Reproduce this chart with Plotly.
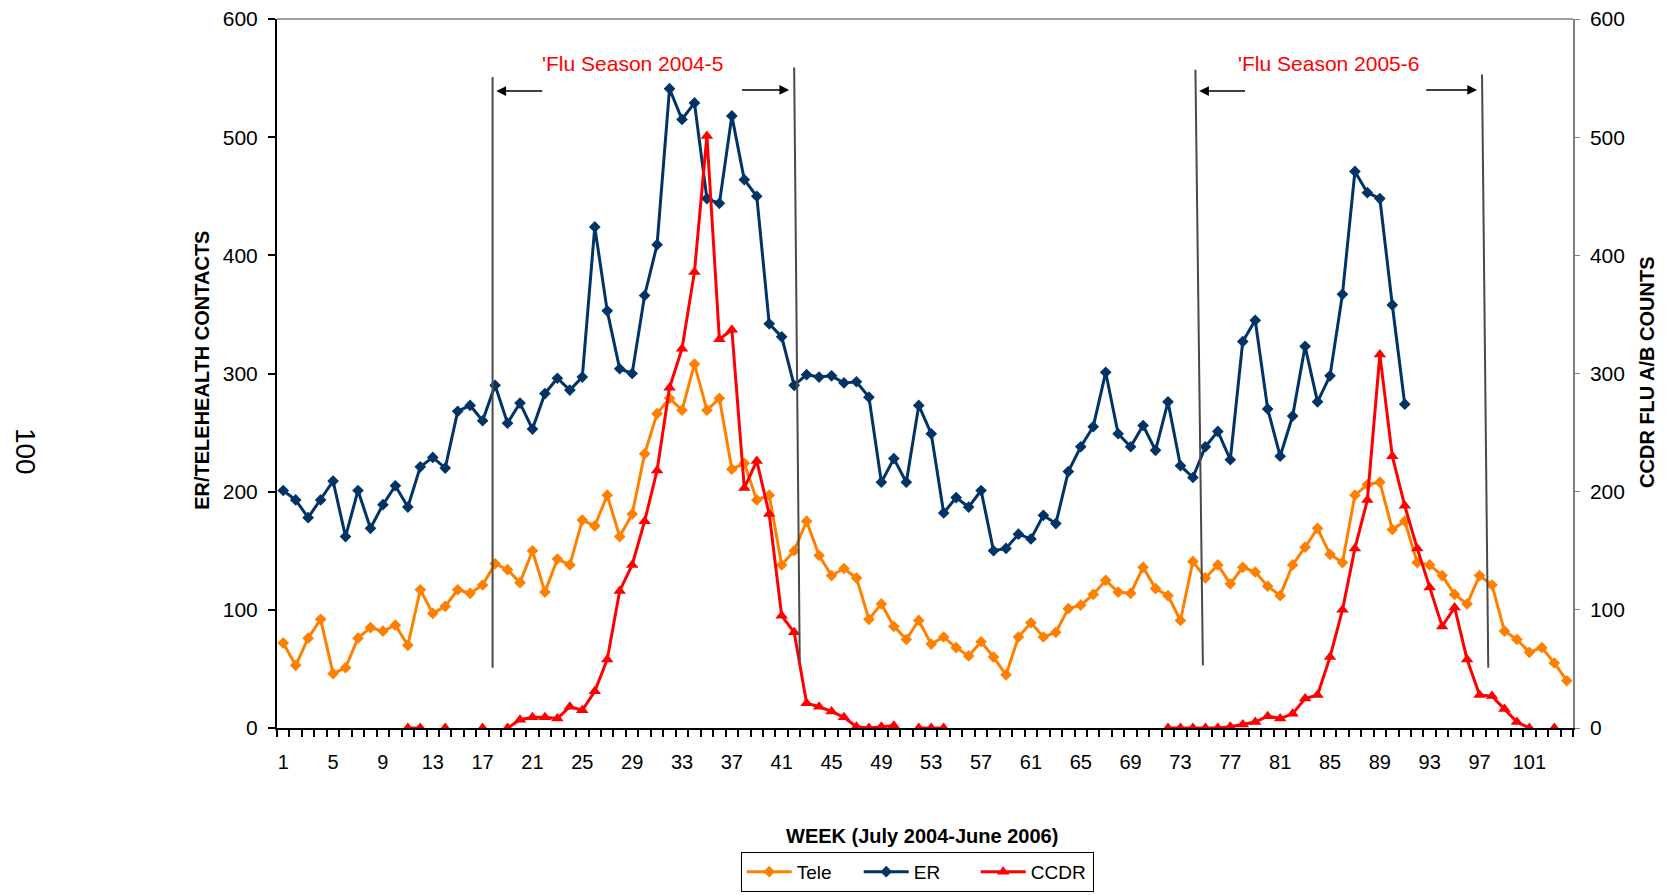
import plotly.graph_objects as go

weeks = list(range(1, 105))

er = [201, 193, 178, 193, 209, 162, 201, 169, 189, 205, 187, 221, 229, 220, 268, 273, 260, 290, 258, 275,
      253, 283, 296, 286, 297, 424, 353, 304, 300, 366, 409, 541, 515, 529, 448, 444, 518, 464, 450, 342,
      331, 290, 299, 297, 298, 292, 293, 280, 208, 228, 208, 273, 249, 182, 195, 187, 201, 150, 152, 164,
      160, 180, 173, 217, 238, 255, 301, 249, 238, 256, 235, 276, 222, 212, 238, 251, 227, 327, 345, 270,
      230, 264, 323, 276, 298, 367, 471, 453, 448, 358, 274]

tele = [72, 53, 76, 92, 46, 51, 76, 85, 82, 87, 70, 117, 97, 103, 117, 114, 121, 139, 134, 123,
        150, 115, 143, 138, 176, 171, 197, 162, 181, 232, 266, 279, 269, 308, 269, 279, 219, 224, 193, 197,
        138, 150, 175, 146, 129, 135, 127, 92, 105, 86, 75, 91, 71, 77, 68, 61, 73, 60, 45, 77,
        89, 77, 81, 101, 104, 113, 125, 115, 114, 136, 118, 112, 91, 141, 127, 138, 122, 136, 132, 120,
        112, 138, 153, 169, 147, 140, 197, 206, 208, 168, 175, 140, 138, 129, 113, 105, 129, 121, 82, 75,
        64, 68, 55, 40]

N = None
ccdr = [N, N, N, N, N, N, N, N, N, N, 0, 0, N, 0, N, N, 0, N, 0, 7,
        9, 9, 8, 18, 15, 31, 58, 116, 138, 175, 218, 288, 321, 386, 501, 329, 337, 203, 226, 181,
        95, 81, 21, 18, 14, 9, 1, 0, 1, 2, N, 0, 0, 0, N, N, N, N, N, N,
        N, N, N, N, N, N, N, N, N, N, N, 0, 0, 0, 0, 0, 1, 3, 5, 10,
        8, 12, 25, 28, 60, 100, 152, 193, 316, 230, 188, 152, 119, 86, 102, 58, 28, 27, 16, 5,
        0, N, 0, N]

x_tick_labels = list(range(1, 105, 4))

# season marker lines: (x top, y top, x bottom, y bottom)
season_lines = [(17.8, 551, 17.8, 51), (42.0, 559, 42.45, 57), (74.2, 557, 74.8, 53), (97.2, 553, 97.7, 51)]
# arrows: (head x, tail x, y)
season_arrows = [(18.1, 21.9, 539), (41.6, 37.7, 540), (74.5, 78.3, 539), (96.8, 92.6, 540)]
season_texts = [("'Flu Season 2004-5", 29.0, 562), ("'Flu Season 2005-6", 84.85, 562)]

FONT = "Liberation Sans, Arial, sans-serif"
ORANGE = "#FF8000"
NAVY = "#003366"
RED = "#FF0000"

fig = go.Figure()
fig.add_trace(go.Scatter(x=weeks, y=tele, name="Tele", mode="lines+markers",
                         line=dict(color=ORANGE, width=3),
                         marker=dict(symbol="diamond", size=9, color=ORANGE)))
fig.add_trace(go.Scatter(x=weeks[:len(er)], y=er, name="ER", mode="lines+markers",
                         line=dict(color=NAVY, width=3),
                         marker=dict(symbol="diamond", size=9, color=NAVY)))
fig.add_trace(go.Scatter(x=weeks, y=ccdr, name="CCDR", mode="lines+markers", yaxis="y2",
                         line=dict(color=RED, width=3),
                         marker=dict(symbol="triangle-up", size=11, color=RED),
                         connectgaps=False))

for (x0, y0, x1, y1) in season_lines:
    fig.add_shape(type="line", xref="x", yref="y", x0=x0, y0=y0, x1=x1, y1=y1,
                  line=dict(color="#4a4a4a", width=2))

annotations = []
for (hx, tx, y) in season_arrows:
    annotations.append(dict(x=hx, y=y, ax=tx, ay=y, xref="x", yref="y", axref="x", ayref="y",
                            text="", showarrow=True, arrowhead=2, arrowsize=1.3, arrowwidth=1.5,
                            arrowcolor="black"))
for (t, x, y) in season_texts:
    annotations.append(dict(x=x, y=y, xref="x", yref="y", text=t, showarrow=False,
                            xanchor="center", yanchor="middle",
                            font=dict(family=FONT, size=21, color=RED)))

annotations.append(dict(x=-0.058, y=0.505, xref="paper", yref="paper", text="<b>ER/TELEHEALTH CONTACTS</b>",
                        textangle=-90, showarrow=False, xanchor="center", yanchor="middle",
                        font=dict(family=FONT, size=20, color="black")))
annotations.append(dict(x=1.057, y=0.502, xref="paper", yref="paper", text="<b>CCDR FLU A/B COUNTS</b>",
                        textangle=-90, showarrow=False, xanchor="center", yanchor="middle",
                        font=dict(family=FONT, size=20, color="black")))
annotations.append(dict(x=0.498, y=-0.152, xref="paper", yref="paper", text="<b>WEEK (July 2004-June 2006)</b>",
                        showarrow=False, xanchor="center", yanchor="middle",
                        font=dict(family=FONT, size=20, color="black")))
annotations.append(dict(x=-0.194, y=0.39, xref="paper", yref="paper", text="100",
                        textangle=90, showarrow=False, xanchor="center", yanchor="middle",
                        font=dict(family=FONT, size=28, color="black")))

fig.add_shape(type="line", xref="paper", yref="paper", x0=0, x1=1, y0=1, y1=1,
              line=dict(color="#808080", width=1.5))

fig.update_layout(
    width=1666, height=895,
    margin=dict(l=269, r=101, t=11, b=175, autoexpand=False),
    paper_bgcolor="white", plot_bgcolor="white",
    font=dict(family=FONT, size=20, color="black"),
    annotations=annotations,
    showlegend=True,
    legend=dict(orientation="h", x=0.494, xanchor="center", y=-0.231, yanchor="bottom",
                bordercolor="black", borderwidth=1, bgcolor="white", entrywidth=57, itemwidth=45,
                font=dict(family=FONT, size=19, color="black")),
    xaxis=dict(range=[0.5, 104.5], tickmode="array", tickvals=x_tick_labels,
               ticktext=[str(v) for v in x_tick_labels],
               ticks="outside", ticklen=7, tickcolor="rgba(0,0,0,0)",
               showline=True, linecolor="black", linewidth=2, showgrid=False, zeroline=False,
               tickfont=dict(size=20), ticklabelstandoff=8, ticklabeloverflow="allow",
               minor=dict(tick0=0.5, dtick=1, ticks="outside", ticklen=7, tickcolor="black", tickwidth=1.5,
                          showgrid=False)),
    yaxis=dict(range=[0, 600], dtick=100, ticks="outside", ticklen=7, tickcolor="black", tickwidth=1.5,
               showline=True, linecolor="black", linewidth=2, showgrid=False, zeroline=False,
               tickfont=dict(size=21), ticklabelstandoff=6, ticklabeloverflow="allow"),
    yaxis2=dict(range=[0, 600], dtick=100, overlaying="y", side="right", ticks="outside", ticklen=5,
                tickcolor="#808080", showline=True, linecolor="#808080", linewidth=1.5,
                showgrid=False, zeroline=False, tickfont=dict(size=21), ticklabelstandoff=6,
                ticklabeloverflow="allow"),
)

fig.write_html("out.html")
